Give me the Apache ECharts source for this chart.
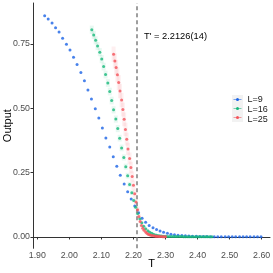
<!DOCTYPE html>
<html>
<head>
<meta charset="utf-8">
<script src="https://cdn.jsdelivr.net/npm/echarts@6/dist/echarts.min.js"></script>
<style>html,body{margin:0;padding:0;background:#fff}#c{width:273px;height:273px}</style>
</head>
<body>
<div id="c"></div>
<script>
// ---- data ----
const xTicks = [1.90, 2.00, 2.10, 2.20, 2.30, 2.40, 2.50, 2.60];
const yTicks = [0.00, 0.25, 0.50, 0.75];
const seriesNames = ['L=9', 'L=16', 'L=25'];

const blueT = [1.923,1.934,1.946,1.957,1.968,1.979,1.991,2.002,2.013,2.024,2.036,2.047,2.058,2.069,2.081,2.092,2.103,2.114,2.126,2.137,2.148,2.159,2.171,2.182,2.193,2.204,2.216,2.227,2.238,2.249,2.261,2.272,2.283,2.294,2.306,2.317,2.328,2.339,2.351,2.362,2.373,2.384,2.396,2.407,2.418,2.429,2.441,2.452,2.463,2.474,2.486,2.497,2.508,2.519,2.531,2.542,2.553,2.564,2.576,2.587,2.598];
const blueY = [0.859,0.847,0.831,0.813,0.796,0.772,0.749,0.726,0.698,0.670,0.639,0.607,0.571,0.536,0.498,0.462,0.423,0.385,0.350,0.312,0.275,0.240,0.206,0.176,0.148,0.120,0.094,0.073,0.057,0.045,0.036,0.029,0.023,0.018,0.014,0.011,0.009,0.007,0.006,0.005,0.004,0.003,0.003,0.002,0.002,0.002,0.001,0.001,0.001,0.001,0.001,0.001,0.001,0.001,0.001,0.001,0.001,0.001,0.001,0.001,0.001];

const greenT = [2.070,2.076,2.082,2.088,2.095,2.101,2.107,2.113,2.120,2.126,2.132,2.138,2.145,2.151,2.157,2.163,2.170,2.176,2.182,2.188,2.195,2.201,2.207,2.213,2.220,2.226,2.232,2.238,2.245,2.251,2.257,2.263,2.270,2.276,2.282,2.288,2.295,2.301,2.307,2.313,2.320,2.326,2.332,2.338,2.345,2.351,2.357,2.363,2.370,2.376,2.382,2.388,2.395,2.401,2.407,2.413,2.420,2.426,2.432,2.438,2.445];
const greenY = [0.805,0.785,0.764,0.742,0.718,0.691,0.662,0.631,0.598,0.565,0.530,0.494,0.458,0.421,0.384,0.346,0.309,0.273,0.238,0.204,0.172,0.142,0.115,0.091,0.071,0.055,0.042,0.032,0.024,0.018,0.014,0.011,0.008,0.006,0.005,0.004,0.003,0.003,0.002,0.002,0.002,0.002,0.002,0.002,0.002,0.002,0.001,0.001,0.001,0.001,0.001,0.001,0.001,0.001,0.001,0.001,0.001,0.001,0.001,0.001,0.001];
const greenErr = [0.016,0.016,0.016,0.016,0.016,0.016,0.015,0.015,0.015,0.015,0.015,0.014,0.014,0.014,0.013,0.013,0.012,0.012,0.011,0.010,0.009,0.008,0.007,0.006,0.005,0.004,0.003,0.003,0.002,0.002,0.002,0.001,0.001,0.001,0.001,0.001,0.001,0.001,0.001,0.001,0.001,0.001,0.001,0.001,0.001,0.001,0.001,0.001,0.001,0.001,0.001,0.001,0.001,0.001,0.001,0.001,0.001,0.001,0.001,0.001,0.001];

const redT = [2.138,2.142,2.146,2.150,2.154,2.158,2.163,2.167,2.171,2.175,2.179,2.183,2.188,2.192,2.196,2.200,2.204,2.208,2.213,2.217,2.221,2.225,2.229,2.233,2.238,2.242,2.246,2.250,2.254,2.258,2.263,2.267,2.271,2.275,2.279,2.283,2.288,2.292,2.296,2.300];
const redY = [0.710,0.684,0.658,0.630,0.600,0.567,0.532,0.495,0.457,0.418,0.380,0.342,0.305,0.270,0.235,0.201,0.168,0.136,0.106,0.080,0.060,0.045,0.034,0.026,0.019,0.014,0.011,0.009,0.007,0.006,0.005,0.004,0.003,0.003,0.002,0.002,0.002,0.001,0.001,0.001];
const redErr = [0.030,0.030,0.030,0.029,0.029,0.028,0.028,0.027,0.027,0.026,0.025,0.024,0.023,0.022,0.020,0.018,0.016,0.014,0.012,0.010,0.008,0.006,0.005,0.004,0.003,0.002,0.002,0.001,0.001,0.001,0.001,0.001,0.001,0.001,0.001,0.001,0.001,0.001,0.001,0.001];

const tcValue = 2.2126;
const tcLabel = "T' = 2.2126(14)";
const annoPos = [2.2328, 0.779];

// ---- styles ----
const colors = ['#1a63e6', '#17b87a', '#f4535a'];
const FONT = 'Liberation Sans, Arial, sans-serif';
const LEG = { left: 232.5, top: 95.5, itemW: 10, itemH: 8, gap: 1 };

function zip(a, b, c) { return a.map((v, i) => c ? [v, b[i], c[i]] : [v, b[i]]); }

function errRender(color, op) {
  return function (params, api) {
    const x = api.value(0), y = api.value(1), e = api.value(2);
    const t = api.coord([x, y + e]);
    const b = api.coord([x, y - e]);
    return {
      type: 'rect',
      shape: { x: t[0] - 2, y: t[1], width: 4, height: Math.max(b[1] - t[1], 0.5) },
      style: { fill: color, opacity: op }
    };
  };
}

function pointSeries(name, data, color, z) {
  return {
    name: name, type: 'scatter', data: data, z: z,
    symbol: 'circle', symbolSize: 3,
    itemStyle: { color: color },
    emphasis: { disabled: true },
    animation: false
  };
}

// legend key glyphs (line + dot on grey background), ggplot style
const legendGraphics = [
  { type: 'rect', id: 'legbg', x: LEG.left - 0.5, y: LEG.top - 0.5, z: 0,
    shape: { width: LEG.itemW + 1, height: 3 * LEG.itemH + 2 * LEG.gap + 1 }, style: { fill: '#f2f2f2' } }
];
seriesNames.forEach((n, i) => {
  const cy = LEG.top + i * (LEG.itemH + LEG.gap) + LEG.itemH / 2;
  legendGraphics.push({ type: 'line', id: 'kl' + i, z: 1,
    shape: { x1: LEG.left + 1, y1: cy, x2: LEG.left + LEG.itemW - 1, y2: cy },
    style: { stroke: colors[i], lineWidth: 0.8, opacity: 0.7 } });
  legendGraphics.push({ type: 'circle', id: 'kc' + i, z: 2,
    shape: { cx: LEG.left + LEG.itemW / 2, cy: cy, r: 1.5 },
    style: { fill: colors[i] } });
});

const chart = echarts.init(document.getElementById('c'), null, { renderer: 'canvas' });
chart.setOption({
  animation: false,
  backgroundColor: '#fff',
  textStyle: { fontFamily: FONT },
  grid: { left: 33, right: 3, top: 3, bottom: 24.7, containLabel: false, outerBoundsMode: 'none' },
  xAxis: {
    type: 'value', min: 1.8866, max: 2.626,
    name: 'T', nameLocation: 'middle', nameGap: 10.5, nameMoveOverlap: false,
    nameTextStyle: { fontSize: 11, color: '#000', fontFamily: FONT },
    axisLine: { show: true, lineStyle: { color: '#333', width: 1 } },
    axisTick: { show: true, length: 2.5, lineStyle: { color: '#333' }, customValues: xTicks },
    axisLabel: { show: true, margin: 3, fontSize: 8.8, color: '#4d4d4d', fontFamily: FONT,
      customValues: xTicks, formatter: v => v.toFixed(2) },
    splitLine: { show: false }
  },
  yAxis: {
    type: 'value', min: -0.044, max: 0.909,
    name: 'Output', nameLocation: 'middle', nameGap: 20, nameRotate: 90, nameMoveOverlap: false,
    nameTextStyle: { fontSize: 11, color: '#000', fontFamily: FONT },
    axisLine: { show: true, lineStyle: { color: '#333', width: 1 } },
    axisTick: { show: true, length: 2.5, lineStyle: { color: '#333' }, customValues: yTicks },
    axisLabel: { show: true, margin: 3, fontSize: 8.8, color: '#4d4d4d', fontFamily: FONT,
      customValues: yTicks, formatter: v => v.toFixed(2) },
    splitLine: { show: false }
  },
  legend: {
    orient: 'vertical', left: LEG.left, top: LEG.top, padding: 0,
    itemWidth: LEG.itemW, itemHeight: LEG.itemH, itemGap: LEG.gap,
    data: seriesNames,
    icon: 'rect',
    itemStyle: { opacity: 0 },
    textStyle: { fontSize: 9, color: '#1a1a1a', lineHeight: 8, fontFamily: FONT },
    selectedMode: false, z: 3
  },
  graphic: legendGraphics,
  series: [
    { name: 'err16', type: 'custom', renderItem: errRender(colors[1], 0.10),
      data: zip(greenT, greenY, greenErr), encode: { x: 0, y: 1 }, z: 1, silent: true },
    { name: 'err25', type: 'custom', renderItem: errRender(colors[2], 0.09),
      data: zip(redT, redY, redErr), encode: { x: 0, y: 1 }, z: 1, silent: true },
    Object.assign(pointSeries(seriesNames[0], zip(blueT, blueY), colors[0], 3), {
      markLine: {
        silent: true, symbol: 'none', animation: false,
        label: { show: false },
        lineStyle: { type: [4, 3], color: '#7f7f7f', width: 1.5 },
        data: [{ xAxis: tcValue }]
      }
    }),
    pointSeries(seriesNames[1], zip(greenT, greenY), colors[1], 4),
    pointSeries(seriesNames[2], zip(redT, redY), colors[2], 5)
  ]
});

const p = chart.convertToPixel({ gridIndex: 0 }, annoPos);
chart.setOption({
  graphic: [
    { type: 'text', id: 'anno', x: p[0], y: p[1], z: 10,
      style: { text: tcLabel, fontSize: 9.3, fill: '#000', fontFamily: FONT,
        textAlign: 'left', textVerticalAlign: 'middle' } }
  ]
});
</script>
</body>
</html>
